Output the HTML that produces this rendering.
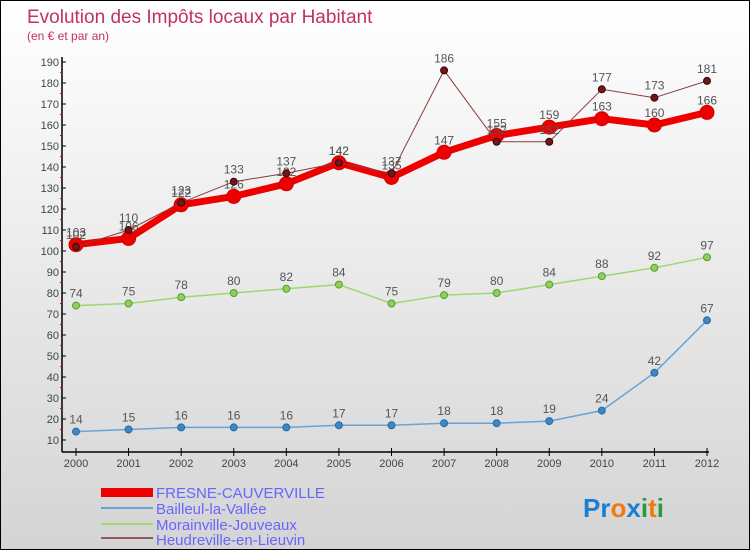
<!DOCTYPE html>
<html><head><meta charset="utf-8"><style>
body{margin:0}
#c{width:748px;height:548px;border:1px solid #000;background:linear-gradient(#fff,#d4d4d4);position:relative;font-family:"Liberation Sans",sans-serif;overflow:hidden}
svg text{font-family:"Liberation Sans",sans-serif}
</style></head><body>
<div id="c">
<svg id="s" width="748" height="548">
<text x="26" y="22" font-size="19" fill="#c0335f">Evolution des Impôts locaux par Habitant</text>
<text x="26" y="39" font-size="12" fill="#c0335f">(en € et par an)</text>
<g id="ax"></g><g id="series"></g>
<g>
<rect x="100" y="487" width="52" height="9" fill="#e00"/>
<text x="155" y="497" font-size="15" fill="#66f">FRESNE-CAUVERVILLE</text>
<line x1="100" y1="507" x2="152" y2="507" stroke="#6aa3d5" stroke-width="2"/>
<text x="155" y="513" font-size="15" fill="#66f">Bailleul-la-Vallée</text>
<line x1="100" y1="523" x2="152" y2="523" stroke="#9dd870" stroke-width="2"/>
<text x="155" y="529" font-size="15" fill="#66f">Morainville-Jouveaux</text>
<line x1="100" y1="537" x2="152" y2="537" stroke="#8d5a5a" stroke-width="2"/>
<text x="155" y="544" font-size="15" fill="#66f">Heudreville-en-Lieuvin</text>
</g>
<text x="582" y="516" font-size="26" font-weight="bold"><tspan fill="#1a7fd4">Pr</tspan><tspan fill="#f07a10">o</tspan><tspan fill="#1a7fd4">x</tspan><tspan fill="#2a9a3a">i</tspan><tspan fill="#f07a10">t</tspan><tspan fill="#2a9a3a">i</tspan></text>
</svg></div>
<script>
const years=[2000,2001,2002,2003,2004,2005,2006,2007,2008,2009,2010,2011,2012];
const yTicks=[10,20,30,40,50,60,70,80,90,100,110,120,130,140,150,160,170,180,190];
const fresne=[103,106,122,126,132,142,135,147,155,159,163,160,166];
const bailleul=[14,15,16,16,16,17,17,18,18,19,24,42,67];
const morainville=[74,75,78,80,82,84,75,79,80,84,88,92,97];
const heudreville=[102,110,123,133,137,142,137,186,152,152,177,173,181];
const NS="http://www.w3.org/2000/svg";
const X=i=>75+i*(631/12);
const Y=v=>439-(v-10)*2.1;
function mk(t,a,p){const e=document.createElementNS(NS,t);for(const k in a)e.setAttribute(k,a[k]);p.appendChild(e);return e;}
const ax=document.getElementById('ax');
const yl=mk('line',{x1:61,y1:56,x2:61,y2:451,stroke:'#000','stroke-width':1.5},ax);


const xl=mk('line',{x1:61,y1:451,x2:708,y2:451,stroke:'#000','stroke-width':1.5},ax);


yTicks.forEach(v=>{
 mk('line',{x1:61,y1:Y(v),x2:65,y2:Y(v),stroke:'#000'},ax);
 if(v<190) mk('line',{x1:59,y1:Y(v+5),x2:61,y2:Y(v+5),stroke:'#e00'},ax);
 const t=mk('text',{x:58,y:Y(v)+4,'font-size':11,fill:'#444','text-anchor':'end'},ax);
 t.textContent=v;
 
 
});
years.forEach((y,i)=>{
 mk('line',{x1:X(i),y1:447,x2:X(i),y2:455,stroke:'#000'},ax);
 const t=mk('text',{x:X(i),y:466,'font-size':11,fill:'#444','text-anchor':'middle'},ax);
 t.textContent=y;
 
 
});
const sg=document.getElementById('series');
function draw(data,name,color,w,r,dot,dotStroke){
 const g=mk('g',{},sg);
 
 
 mk('polyline',{points:data.map((v,i)=>X(i)+','+Y(v)).join(' '),fill:'none',stroke:color,'stroke-width':w,'stroke-linejoin':'round'},g);
 data.forEach((v,i)=>{
  const c=mk('circle',{cx:X(i),cy:Y(v),r:r,fill:dot,stroke:dotStroke,'stroke-width':1},g);
  
  
  const t=mk('text',{x:X(i),y:Y(v)-8,'font-size':12,fill:'#555','text-anchor':'middle'},g);
  t.textContent=v;
  
  
 });
}
draw(bailleul,'bailleul','#6aa3d5',1.5,3.5,'#3b87c8','#2a6aa0');
draw(morainville,'morainville','#9dd870',1.5,3.5,'#8fd05a','#5a9a30');
draw(fresne,'fresne','#e00',7,7,'#e00','#c00');
draw(heudreville,'heudreville','#8d3a3a',1,3.5,'#6a1a1a','#400');
</script>
</body></html>
